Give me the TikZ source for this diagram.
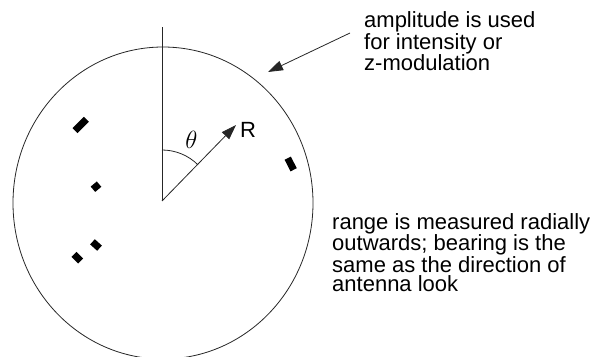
\documentclass[tikz,border=0pt]{standalone}
\usepackage{fontspec}
\setmainfont{Liberation Sans}
\usetikzlibrary{arrows.meta,shapes.geometric,calc}
\begin{document}
\begin{tikzpicture}[x=1pt,y=1pt,
  thin line/.style={line width=0.8pt, draw=black!85},
  bigarrow/.style={thin line, -{Triangle[length=15pt,width=10pt]}},
  note/.style={anchor=base west, inner sep=0pt, align=left,
    font=\fontsize{22}{19.3}\selectfont},
  blip/.style={fill=black, draw=none, minimum height=7pt, inner sep=0pt}]
\useasboundingbox (0,0) rectangle (604,356);
% scope circle
\node[thin line, ellipse, minimum width=300pt, minimum height=312pt, inner sep=0pt] (scope) at (163,153) {};
\coordinate (O) at (162,155);
\coordinate (north) at (162,329);
\coordinate (Rtip) at (236,231);
\draw[thin line] (O) -- (north);
\draw[bigarrow] (O) -- (Rtip);
\node[inner sep=0pt, font=\fontsize{22}{22}\selectfont] (R) at (248,226) {R};
\draw[thin line] ($(O)+(90:51)$) arc[start angle=90, end angle=45, radius=51];
\node[inner sep=0pt, font=\fontsize{24}{24}\selectfont] (theta) at (191.5,216) {$\theta$};
% blips
\node[blip, minimum width=16pt, rotate=45] (b1) at (80.7,231) {};
\node[blip, minimum width=8pt, rotate=40] (b2) at (96,169.3) {};
\node[blip, minimum width=9.5pt, rotate=-42] (b3) at (96,111) {};
\node[blip, minimum width=9.5pt, rotate=-45] (b4) at (77.3,98.3) {};
\node[blip, minimum width=13pt, rotate=-63] (b5) at (290.7,192) {};
% annotations
\node[note] (amp) at (364,285.3) {amplitude is used\\for intensity or\\z-modulation};
\coordinate (ampstart) at (350,323);
\coordinate (amptip) at (268,284);
\draw[bigarrow] (ampstart) -- (amptip);
\node[note] (range) at (332,64.3) {range is measured radially\\outwards; bearing is the\\same as the direction of\\antenna look};
\end{tikzpicture}
\end{document}
